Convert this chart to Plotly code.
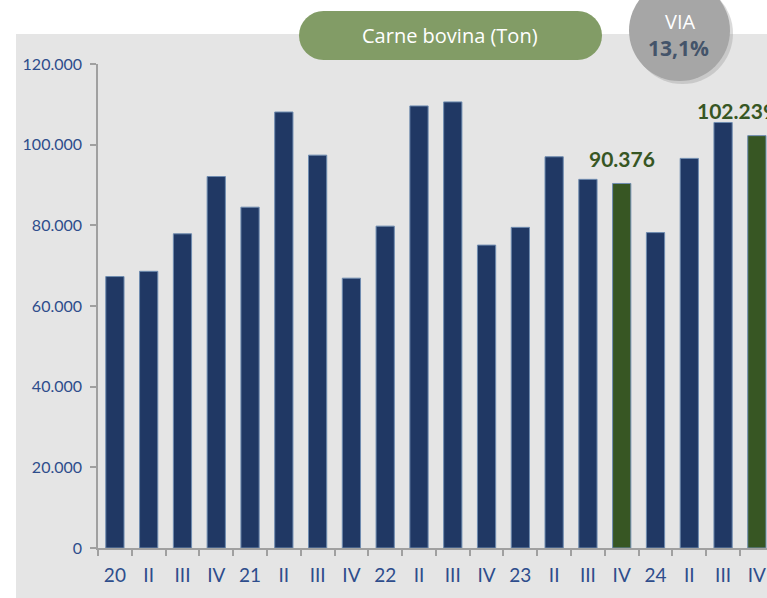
import plotly.graph_objects as go

categories = ["20", "II", "III", "IV", "21", "II", "III", "IV", "22", "II", "III", "IV",
              "23", "II", "III", "IV", "24", "II", "III", "IV"]
values = [67300, 68600, 77900, 92100, 84500, 108100, 97400, 66900,
          79800, 109600, 110600, 75100, 79500, 97000, 91400, 90376,
          78200, 96600, 105500, 102239]
highlight = [15, 19]
label_texts = {15: "90.376", 19: "102.239"}
y_ticks = [0, 20000, 40000, 60000, 80000, 100000, 120000]

W, H = 767, 598
ML, MR, MT, MB = 98, 0, 64, 50
PW, PH = W - ML - MR, H - MT - MB

def px(x):
    return (x - ML) / PW

def py(y):
    return (H - MB - y) / PH

NAVY = "#203864"
GREEN = "#375623"
colors = [GREEN if i in highlight else NAVY for i in range(len(values))]
x = list(range(len(values)))

fig = go.Figure()
fig.add_trace(go.Bar(
    x=x, y=values, marker=dict(color=colors, line=dict(color="#6F8CB0", width=1)),
    width=0.54, hoverinfo="skip",
))

# rounded pill for title
def pill_path(x0, x1, y0, y1, n=16):
    import math
    r = (y1 - y0) / 2
    cy = (y0 + y1) / 2
    pts = [(x0 + r, y0), (x1 - r, y0)]
    for k in range(1, n):
        a = -math.pi / 2 + math.pi * k / n
        pts.append((x1 - r + r * math.cos(a), cy + r * math.sin(a)))
    pts += [(x1 - r, y1), (x0 + r, y1)]
    for k in range(1, n):
        a = math.pi / 2 + math.pi * k / n
        pts.append((x0 + r + r * math.cos(a), cy + r * math.sin(a)))
    s = "M " + " L ".join(f"{px(a):.5f},{py(b):.5f}" for a, b in pts) + " Z"
    return s

shapes = [
    dict(type="rect", xref="paper", yref="paper", x0=px(16), x1=px(W + 5), y0=py(34), y1=py(H + 5),
         fillcolor="#E5E5E5", line=dict(width=0), layer="below"),
    dict(type="path", xref="paper", yref="paper", path=pill_path(299, 602, 11, 60),
         fillcolor="#829C66", line=dict(width=0)),
    dict(type="circle", xref="paper", yref="paper", x0=px(632), x1=px(733), y0=py(84), y1=py(-17),
         fillcolor="rgba(150,150,150,0.35)", line=dict(width=0)),
    dict(type="circle", xref="paper", yref="paper", x0=px(629), x1=px(730), y0=py(81), y1=py(-20),
         fillcolor="#A6A6A6", line=dict(width=0)),
]

annotations = [
    dict(xref="paper", yref="paper", x=px(450), y=py(36), text="Carne bovina (Ton)", showarrow=False,
         font=dict(family="Open Sans, sans-serif", size=20, color="white"), xanchor="center", yanchor="middle"),
    dict(xref="paper", yref="paper", x=px(680), y=py(22), text="VIA", showarrow=False,
         font=dict(family="Open Sans, sans-serif", size=20, color="white"), xanchor="center", yanchor="middle"),
    dict(xref="paper", yref="paper", x=px(678), y=py(48), text="<b>13,1%</b>", showarrow=False,
         font=dict(family="Open Sans, sans-serif", size=21, color="#44546A"), xanchor="center", yanchor="middle"),
]
for i, t in label_texts.items():
    ann = dict(x=i, y=values[i], text=f"<b>{t}</b>", showarrow=False, yanchor="middle", yshift=25,
               font=dict(family="Lato, sans-serif", size=21, color=GREEN))
    if i == 19:
        ann.update(xanchor="left", xshift=-62)
    else:
        ann.update(xanchor="center")
    annotations.append(ann)

fig.update_layout(
    width=W, height=H, margin=dict(l=ML, r=MR, t=MT, b=MB, pad=0),
    paper_bgcolor="white", plot_bgcolor="#E5E5E5",
    separators=",.", showlegend=False, bargap=0.46,
    shapes=shapes, annotations=annotations,
    font=dict(family="Lato, sans-serif", color="#2E4D8C"),
)
fig.update_xaxes(
    range=[-0.5, 19.3], tickmode="array", tickvals=x, ticktext=categories,
    ticks="", showgrid=False, zeroline=False, showline=True, linecolor="#A0A0A0", linewidth=1.5,
    tickfont=dict(size=19, color="#2E4D8C"), ticklabelstandoff=9,
    minor=dict(tickmode="array", tickvals=[i - 0.5 for i in range(len(values) + 1)],
               ticks="outside", ticklen=6, tickcolor="#A0A0A0", tickwidth=1.5, showgrid=False),
    fixedrange=True,
)
fig.update_yaxes(
    range=[0, 120000], tickmode="array", tickvals=y_ticks, tickformat=",d",
    ticks="outside", ticklen=6, tickcolor="#A0A0A0", tickwidth=1.5,
    showgrid=False, zeroline=False, showline=True, linecolor="#A0A0A0", linewidth=1.5,
    tickfont=dict(size=16, color="#2E4D8C"), ticklabelstandoff=5,
    fixedrange=True,
)

fig.write_html(
    "out.html",
    config={"displayModeBar": False},
    post_script="document.body.style.margin='0';document.body.style.overflow='hidden';",
)
